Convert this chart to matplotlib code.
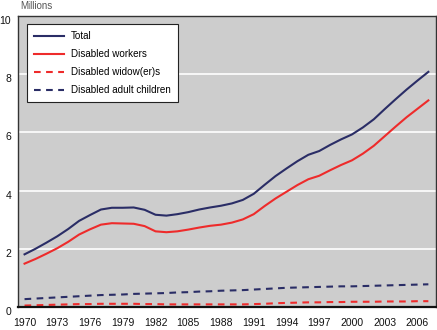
import matplotlib
matplotlib.use("Agg")
import matplotlib.pyplot as plt
import matplotlib.transforms as mtransforms

plt.rcParams['font.family'] = ['Liberation Sans', 'DejaVu Sans']

years = list(range(1970, 2008))

disabled_workers = [1.49, 1.65, 1.83, 2.02, 2.24, 2.49, 2.67, 2.83, 2.88, 2.87,
                    2.86, 2.78, 2.60, 2.57, 2.60, 2.66, 2.73, 2.79, 2.83, 2.90,
                    3.01, 3.19, 3.47, 3.73, 3.96, 4.19, 4.39, 4.51, 4.70, 4.88,
                    5.04, 5.27, 5.54, 5.87, 6.20, 6.52, 6.81, 7.10]

disabled_widows = [0.05, 0.06, 0.07, 0.08, 0.09, 0.10, 0.10, 0.11, 0.11, 0.11,
                   0.11, 0.10, 0.10, 0.09, 0.09, 0.09, 0.09, 0.09, 0.09, 0.09,
                   0.09, 0.10, 0.11, 0.13, 0.14, 0.15, 0.16, 0.16, 0.17, 0.17,
                   0.18, 0.18, 0.18, 0.19, 0.19, 0.19, 0.20, 0.20]

disabled_adult_children = [0.27, 0.29, 0.31, 0.33, 0.35, 0.37, 0.39, 0.41, 0.42, 0.43,
                           0.45, 0.46, 0.47, 0.48, 0.50, 0.51, 0.53, 0.54, 0.56, 0.57,
                           0.58, 0.60, 0.62, 0.64, 0.66, 0.67, 0.68, 0.69, 0.70, 0.71,
                           0.71, 0.72, 0.73, 0.74, 0.75, 0.76, 0.77, 0.78]

total = [1.81, 2.00, 2.21, 2.43, 2.68, 2.96, 3.16, 3.35, 3.41, 3.41,
         3.42, 3.34, 3.17, 3.14, 3.19, 3.26, 3.35, 3.42, 3.48, 3.56,
         3.68, 3.89, 4.20, 4.50, 4.76, 5.01, 5.23, 5.36, 5.57, 5.76,
         5.93, 6.17, 6.45, 6.80, 7.14, 7.47, 7.78, 8.08]

x_ticks = list(range(1970, 2007, 3))
x_tick_labels = ['1970', '1973', '1976', '1979', '1982', '1085', '1988',
                 '1991', '1994', '1997', '2000', '2003', '2006']
y_ticks = [0, 2, 4, 6, 8, 10]

navy = '#2a2d66'
red = '#ee2b2b'

fig = plt.figure(figsize=(4.37, 3.30), dpi=100)
ax = fig.add_axes([18 / 437, 23 / 330, 418 / 437, 291 / 330])
ax.set_facecolor('#cdcdcd')

ax.plot(years, total, color=navy, lw=1.5, label='Total')
ax.plot(years, disabled_workers, color=red, lw=1.5, label='Disabled workers')
ax.plot(years, disabled_widows, color=red, lw=1.5, ls=(0, (3.2, 2.6)),
        label='Disabled widow(er)s')
ax.plot(years, disabled_adult_children, color=navy, lw=1.5, ls=(0, (3.2, 2.6)),
        label='Disabled adult children')

ax.set_xlim(1969.4, 2007.7)
ax.set_ylim(0, 10)
ax.set_xticks(x_ticks)
ax.set_xticklabels(x_tick_labels)
ax.set_yticks(y_ticks)
ax.tick_params(axis='both', length=0, labelsize=7.5, colors='#111111')
ax.tick_params(axis='x', pad=8)
ax.tick_params(axis='y', pad=5)

# y labels sit a little below their gridlines
shift = mtransforms.ScaledTranslation(0, -4 / 100, fig.dpi_scale_trans)
for lbl in ax.get_yticklabels():
    lbl.set_transform(lbl.get_transform() + shift)

ax.yaxis.grid(True, color='white', lw=1.2)
ax.xaxis.grid(False)
ax.set_axisbelow(True)

for side in ['left', 'right', 'top']:
    ax.spines[side].set_color('#333333')
    ax.spines[side].set_linewidth(1.0)
ax.spines['bottom'].set_color('#111111')
ax.spines['bottom'].set_linewidth(1.6)

fig.text(20 / 437, 1 - 6 / 330, 'Millions', fontsize=7, color='#555555',
         ha='left', va='center')

leg = ax.legend(loc='upper left', bbox_to_anchor=(9 / 418, 1 - 8 / 291),
                fontsize=7.1, frameon=True, fancybox=False, framealpha=1,
                edgecolor='#222222', handlelength=3.0, handletextpad=0.7,
                borderpad=0.75, labelspacing=0.8, borderaxespad=0)
leg.get_frame().set_linewidth(0.8)

fig.savefig('out.png', dpi=100)
